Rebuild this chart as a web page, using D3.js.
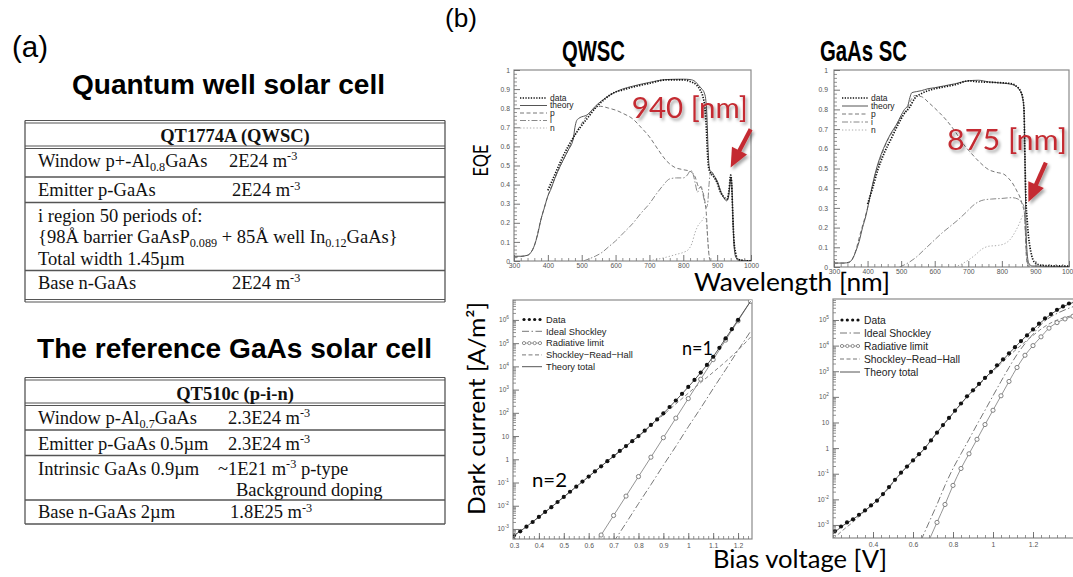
<!DOCTYPE html>
<html><head><meta charset="utf-8">
<script src="https://cdn.jsdelivr.net/npm/d3@7"></script>
<style>
body{margin:0;background:#fff}
svg{display:block}
</style></head><body>
<svg id="fig" width="1073" height="577"></svg>
<script>
// ================= data =================
// EQE spectra: [wavelength nm, EQE]
const qwEqeData = [[400,0.37],[420,0.45],[440,0.53],[460,0.60],[480,0.66],[500,0.71],[520,0.755],[540,0.80],[560,0.835],[580,0.865],[600,0.885],[620,0.895],[650,0.91],[700,0.93],[750,0.948],[800,0.948],[820,0.94],[840,0.92],[850,0.895],[858,0.86],[864,0.80],[868,0.70],[871,0.58],[874,0.50],[878,0.47],[885,0.45],[890,0.44],[900,0.41],[910,0.36],[920,0.335],[930,0.325],[935,0.37],[940,0.45],[943,0.40],[946,0.25],[950,0.10],[955,0.04],[960,0.01],[970,0.005],[1000,0.0]];
const qwEqeTheory = [[300,0.025],[320,0.025],[340,0.03],[350,0.045],[360,0.08],[370,0.14],[380,0.22],[390,0.28],[400,0.34],[410,0.38],[420,0.43],[440,0.51],[460,0.58],[475,0.64],[480,0.70],[485,0.735],[490,0.745],[500,0.755],[510,0.76],[520,0.77],[530,0.79],[540,0.81],[560,0.84],[580,0.865],[600,0.885],[620,0.90],[650,0.915],[700,0.935],[750,0.95],[800,0.952],[820,0.95],[835,0.94],[845,0.92],[855,0.90],[862,0.88],[866,0.85],[870,0.75],[873,0.60],[876,0.50],[880,0.47],[885,0.465],[890,0.45],[900,0.42],[910,0.37],[920,0.33],[928,0.315],[933,0.33],[938,0.40],[941,0.44],[944,0.38],[947,0.20],[950,0.08],[955,0.02],[965,0.005],[1000,0.0]];
const qwEqeP = [[300,0.02],[340,0.03],[360,0.08],[380,0.22],[400,0.34],[420,0.43],[440,0.51],[460,0.58],[480,0.66],[500,0.72],[520,0.77],[540,0.80],[555,0.81],[580,0.80],[600,0.79],[625,0.77],[650,0.745],[675,0.70],[700,0.65],[725,0.585],[750,0.525],[775,0.49],[800,0.478],[820,0.47],[835,0.44],[845,0.39],[852,0.385],[858,0.36],[864,0.31],[868,0.25],[872,0.12],[876,0.03],[880,0.0]];
const qwEqeI = [[505,0.0],[520,0.01],[540,0.025],[560,0.045],[580,0.075],[600,0.105],[625,0.15],[650,0.195],[675,0.25],[700,0.30],[720,0.35],[740,0.395],[760,0.43],[780,0.435],[800,0.435],[812,0.45],[822,0.475],[828,0.46],[835,0.41],[842,0.36],[848,0.385],[853,0.39],[858,0.35],[863,0.31],[868,0.28],[872,0.30],[876,0.40],[880,0.46],[886,0.46],[892,0.44],[900,0.41],[910,0.36],[920,0.33],[930,0.32],[935,0.36],[940,0.44],[943,0.39],[946,0.24],[950,0.09],[955,0.03],[962,0.005],[1000,0.0]];
const qwEqeN = [[690,0.0],[720,0.008],[750,0.02],[780,0.035],[800,0.045],[815,0.06],[825,0.09],[835,0.15],[845,0.19],[855,0.21],[862,0.23],[867,0.22],[871,0.14],[875,0.05],[879,0.0]];

const gaEqeData = [[400,0.32],[415,0.40],[430,0.49],[450,0.58],[470,0.65],[490,0.72],[510,0.78],[525,0.81],[540,0.855],[560,0.88],[580,0.895],[600,0.905],[630,0.915],[660,0.925],[700,0.945],[730,0.94],[760,0.938],[800,0.935],[830,0.93],[845,0.915],[855,0.895],[862,0.86],[866,0.80],[868,0.62],[870,0.45],[872,0.33],[875,0.25],[878,0.18],[882,0.12],[886,0.08],[892,0.04],[900,0.02],[920,0.008],[1000,0.005]];
const gaEqeTheory = [[300,0.02],[330,0.02],[345,0.025],[355,0.04],[365,0.08],[375,0.13],[385,0.20],[395,0.26],[405,0.34],[415,0.42],[425,0.49],[440,0.57],[455,0.63],[470,0.68],[485,0.72],[500,0.77],[510,0.80],[520,0.82],[526,0.86],[532,0.885],[545,0.89],[560,0.895],[580,0.905],[600,0.91],[630,0.92],[660,0.93],[700,0.945],[730,0.948],[760,0.94],[790,0.935],[820,0.93],[840,0.92],[852,0.90],[860,0.87],[865,0.82],[868,0.65],[870,0.40],[872,0.20],[875,0.08],[880,0.02],[890,0.005],[1000,0.002]];
const gaEqeP = [[300,0.02],[340,0.02],[360,0.06],[380,0.18],[400,0.30],[420,0.45],[440,0.56],[460,0.645],[480,0.70],[500,0.76],[520,0.81],[530,0.85],[540,0.87],[560,0.865],[585,0.83],[610,0.79],[635,0.745],[660,0.69],[685,0.625],[710,0.575],[735,0.53],[760,0.495],[785,0.48],[805,0.472],[820,0.45],[830,0.43],[845,0.385],[855,0.35],[862,0.31],[867,0.28],[870,0.18],[873,0.05],[878,0.0]];
const gaEqeI = [[495,0.0],[520,0.02],[545,0.05],[570,0.09],[595,0.13],[620,0.17],[645,0.205],[670,0.24],[695,0.28],[720,0.32],[745,0.34],[770,0.345],[800,0.348],[830,0.352],[848,0.345],[858,0.33],[865,0.31],[869,0.22],[872,0.10],[876,0.03],[880,0.0]];
const gaEqeN = [[660,0.0],[680,0.015],[700,0.035],[720,0.06],[740,0.09],[760,0.105],[790,0.11],[810,0.12],[825,0.14],[840,0.18],[852,0.22],[862,0.26],[867,0.27],[870,0.20],[873,0.08],[877,0.02],[880,0.0]];

// Dark current: [bias V, current density A/m^2]
const qwDarkData = [[0.300,5.2e-4],[0.325,7.9e-4],[0.350,1.26e-3],[0.375,2.0e-3],[0.400,3.3e-3],[0.425,5.4e-3],[0.450,8.7e-3],[0.475,1.45e-2],[0.500,2.4e-2],[0.525,4.0e-2],[0.550,6.6e-2],[0.575,0.11],[0.600,0.18],[0.625,0.30],[0.650,0.50],[0.675,0.83],[0.700,1.38],[0.725,2.3],[0.750,3.7],[0.775,6.0],[0.800,10],[0.825,17],[0.850,30],[0.875,52],[0.900,95],[0.925,178],[0.950,340],[0.975,660],[1.000,1.3e3],[1.025,2.6e3],[1.050,5.4e3],[1.075,1.15e4],[1.100,2.6e4],[1.125,6.3e4],[1.150,1.6e5],[1.175,4.0e5],[1.200,1.0e6]];
const qwDarkTotal = [[0.30,5.2e-4],[0.35,1.26e-3],[0.40,3.3e-3],[0.45,8.7e-3],[0.50,2.4e-2],[0.55,6.6e-2],[0.60,0.18],[0.65,0.5],[0.70,1.38],[0.75,3.7],[0.80,10],[0.85,30],[0.90,95],[0.95,340],[1.00,1.3e3],[1.05,5.4e3],[1.10,2.6e4],[1.15,1.6e5],[1.20,1.0e6],[1.25,6.3e6]];
const qwDarkRad = [[0.65,5.5e-4],[0.70,3.8e-3],[0.75,2.6e-2],[0.80,0.18],[0.85,1.23],[0.90,8.5],[0.95,59],[1.00,410],[1.05,2.8e3],[1.10,1.95e4],[1.15,1.35e5],[1.20,9.1e5],[1.25,6.3e6]];
const qwDarkIdeal = [[0.70,2.75e-4],[0.75,1.8e-3],[0.80,1.23e-2],[0.85,8.1e-2],[0.90,0.55],[0.95,3.6],[1.00,25],[1.05,160],[1.10,1.1e3],[1.15,7.2e3],[1.20,4.9e4],[1.25,3.2e5]];
const qwDarkSRH = [[0.30,5.2e-4],[0.35,1.26e-3],[0.40,3.3e-3],[0.45,8.7e-3],[0.50,2.4e-2],[0.55,6.6e-2],[0.60,0.18],[0.65,0.49],[0.70,1.33],[0.75,3.6],[0.80,9.6],[0.85,28],[0.90,82],[0.95,240],[1.00,700],[1.05,2.0e3],[1.10,5.6e3],[1.15,1.6e4],[1.20,5.0e4],[1.25,1.8e5]];

const gaDarkData = [[0.21,5.8e-4],[0.24,8.7e-4],[0.27,1.26e-3],[0.30,1.66e-3],[0.33,2.5e-3],[0.36,3.7e-3],[0.39,5.8e-3],[0.42,8.9e-3],[0.45,1.6e-2],[0.48,3.0e-2],[0.51,5.8e-2],[0.54,0.11],[0.57,0.19],[0.60,0.33],[0.63,0.58],[0.66,1.0],[0.69,2.0],[0.72,4.0],[0.75,7.9],[0.78,15],[0.81,29],[0.84,55],[0.87,105],[0.90,180],[0.93,320],[0.96,550],[0.99,950],[1.02,1.7e3],[1.05,2.9e3],[1.08,5.0e3],[1.11,8.7e3],[1.14,1.5e4],[1.17,2.5e4],[1.20,4.3e4],[1.23,7.2e4],[1.26,1.15e5],[1.29,1.7e5],[1.32,2.5e5],[1.35,3.4e5],[1.38,4.4e5],[1.41,5.5e5]];
const gaDarkTotal = [[0.20,4.5e-4],[0.25,9.5e-4],[0.30,1.66e-3],[0.35,3.2e-3],[0.40,6.6e-3],[0.45,1.6e-2],[0.50,4.7e-2],[0.55,0.13],[0.60,0.33],[0.65,0.83],[0.70,2.5],[0.75,7.9],[0.80,23],[0.85,68],[0.90,180],[0.95,460],[1.00,1.1e3],[1.05,2.8e3],[1.10,7.2e3],[1.15,1.8e4],[1.20,4.2e4],[1.25,9.5e4],[1.30,1.9e5],[1.35,3.3e5],[1.40,4.8e5]];
const gaDarkRad = [[0.68,2.5e-4],[0.72,1.26e-3],[0.76,6.3e-3],[0.80,3.5e-2],[0.84,0.16],[0.88,0.6],[0.92,2.2],[0.96,8.3],[1.00,30],[1.04,110],[1.08,400],[1.12,1.4e3],[1.16,4.2e3],[1.20,1.0e4],[1.24,2.2e4],[1.28,4.8e4],[1.32,7.9e4],[1.36,1.1e5],[1.40,1.4e5]];
const gaDarkIdeal = [[0.64,2.5e-4],[0.68,1.26e-3],[0.72,6.3e-3],[0.76,3.5e-2],[0.80,0.16],[0.84,0.6],[0.88,2.2],[0.92,8.3],[0.96,30],[1.00,110],[1.04,400],[1.08,1.4e3],[1.12,4.5e3],[1.16,1.2e4],[1.20,2.8e4],[1.24,6.6e4],[1.28,1.2e5],[1.32,1.8e5],[1.36,2.5e5],[1.40,3.3e5]];
const gaDarkSRH = [[0.20,2.8e-4],[0.25,6.3e-4],[0.30,1.3e-3],[0.35,3.0e-3],[0.40,6.6e-3],[0.45,1.5e-2],[0.50,4.4e-2],[0.55,0.13],[0.60,0.33],[0.65,0.83],[0.70,2.6],[0.75,7.9],[0.80,22],[0.85,66],[0.90,170],[0.95,420],[1.00,1.0e3],[1.05,2.4e3],[1.10,5.5e3],[1.15,1.2e4],[1.20,2.5e4],[1.25,5.0e4],[1.30,8.5e4],[1.35,1.2e5],[1.40,1.5e5]];

// tick values
const eqeXTicks = [300,400,500,600,700,800,900,1000];
const eqeYTicks = [0,0.1,0.2,0.3,0.4,0.5,0.6,0.7,0.8,0.9,1];
const qwDarkXTicks = [0.3,0.4,0.5,0.6,0.7,0.8,0.9,1,1.1,1.2];
const gaDarkXTicks = [0.4,0.6,0.8,1,1.2];
const qwDarkYTicks = [1e-3,1e-2,1e-1,1,10,1e2,1e3,1e4,1e5,1e6];
const gaDarkYTicks = [1e-3,1e-2,1e-1,1,10,1e2,1e3,1e4,1e5];

// legend entries
const eqeLegend = ["data","theory","p","i","n"];
const darkLegend = ["Data","Ideal Shockley","Radiative limit","Shockley\u2212Read\u2212Hall","Theory total"];

// annotation values
const qwPeak = {label:"940 [nm]", wl:940};
const gaEdge = {label:"875 [nm]", wl:875};

// table contents
const table1Title = "QT1774A (QWSC)";
const table1Rows = [
  [[["Window p+-Al"],["0.8","sub"],["GaAs"]], [["2E24 m"],["-3","sup"]]],
  [[["Emitter p-GaAs"]], [["2E24 m"],["-3","sup"]]],
  [[["i region 50 periods of:"]], null],
  [[["{98\u00C5 barrier GaAsP"],["0.089","sub"],[" + 85\u00C5 well In"],["0.12","sub"],["GaAs}"]], null],
  [[["Total width 1.45\u00B5m"]], null],
  [[["Base n-GaAs"]], [["2E24 m"],["-3","sup"]]]
];
const table2Title = "QT510c (p-i-n)";
const table2Rows = [
  [[["Window p-Al"],["0.7","sub"],["GaAs"]], [["2.3E24 m"],["-3","sup"]]],
  [[["Emitter p-GaAs 0.5\u00B5m"]], [["2.3E24 m"],["-3","sup"]]],
  [[["Intrinsic GaAs 0.9\u00B5m"]], [["~1E21 m"],["-3","sup"],[" p-type"]]],
  [[[""]], [["Background doping"]]],
  [[["Base n-GaAs 2\u00B5m"]], [["1.8E25 m"],["-3","sup"]]]
];

// ================= drawing =================
const svg = d3.select("#fig");
svg.append("rect").attr("width",1073).attr("height",577).attr("fill","#fff");
const defs = svg.append("defs");
const flt = defs.append("filter").attr("id","shadow").attr("x","-20%").attr("y","-20%").attr("width","150%").attr("height","160%");
flt.append("feDropShadow").attr("dx",2).attr("dy",2.5).attr("stdDeviation",1.6)
   .attr("flood-color","#000").attr("flood-opacity",0.35);

const SANS = "'Liberation Sans', Arial, sans-serif";
const SERIF = "'Liberation Serif', 'Times New Roman', serif";
const HUM = "Lato, 'Open Sans', sans-serif";
const RED = "#c42a30";

function label(g, txt, x, y, o = {}) {
  const t = g.append("text").attr("x", x).attr("y", y)
    .attr("font-family", o.family || SANS).attr("font-size", o.size || 12)
    .attr("font-weight", o.weight || "normal").attr("fill", o.fill || "#000")
    .attr("text-anchor", o.anchor || "start").text(txt);
  if (o.width) t.attr("textLength", o.width).attr("lengthAdjust", "spacingAndGlyphs");
  if (o.rotate) t.attr("transform", `rotate(${o.rotate},${x},${y})`);
  if (o.filter) t.attr("filter", o.filter);
  return t;
}

// ---------- (a) tables ----------
const ga = svg.append("g");
label(ga, "(a)", 12, 57, {size: 29, width: 36});
label(ga, "Quantum well solar cell", 72, 94, {size: 27, weight: "bold", width: 313});
label(ga, "The reference GaAs solar cell", 37, 357.5, {size: 28, weight: "bold", width: 395});

function richText(g, segs, x, y, size) {
  const t = g.append("text").attr("x", x).attr("y", y)
    .attr("font-family", SERIF).attr("font-size", size).attr("fill", "#111");
  let shift = 0;
  segs.forEach(([s, kind]) => {
    const want = kind === "sub" ? 4.5 : kind === "sup" ? -6.5 : 0;
    const ts = t.append("tspan").text(s).attr("dy", want - shift);
    if (kind) ts.attr("font-size", size * 0.66);
    shift = want;
  });
  return t;
}

function drawTable(g, cfg, title, rows) {
  const line = (y, w) => g.append("line").attr("x1", cfg.x0).attr("x2", cfg.x1)
    .attr("y1", y).attr("y2", y).attr("stroke", "#555").attr("stroke-width", w);
  cfg.double.forEach(y => { line(y, 1.1); line(y + 2.5, 1.1); });
  cfg.single.forEach(y => line(y, 1.3));
  [cfg.x0, cfg.x1].forEach(x => g.append("line").attr("x1", x).attr("x2", x)
    .attr("y1", cfg.top).attr("y2", cfg.bottom).attr("stroke", "#555").attr("stroke-width", 1.3));
  g.append("text").attr("x", (cfg.x0 + cfg.x1) / 2).attr("y", cfg.titleY)
    .attr("text-anchor", "middle").attr("font-family", SERIF).attr("font-weight", "bold")
    .attr("font-size", 18.5).attr("fill", "#111").text(title);
  rows.forEach((r, i) => {
    richText(g, r[0], cfg.textX, cfg.rowY[i], 18.5);
    if (r[1]) richText(g, r[1], cfg.valX[i], cfg.rowY[i], 18.5);
  });
}

drawTable(ga, {x0: 25, x1: 445, top: 120.5, bottom: 302,
  double: [120.5, 146, 299.5], single: [177, 202.5, 270.5],
  titleY: 142, textX: 38, rowY: [166.5, 196, 221.5, 242.5, 264.5, 288.5],
  valX: [229, 232, 0, 0, 0, 232]}, table1Title, table1Rows);

drawTable(ga, {x0: 25, x1: 445, top: 377.5, bottom: 524,
  double: [377.5, 403], single: [430, 455.5, 500, 524],
  titleY: 399.5, textX: 38, rowY: [423.5, 449.5, 474.5, 495.5, 518],
  valX: [228, 228, 218, 236, 230]}, table2Title, table2Rows);

// ---------- (b) plots ----------
const gb = svg.append("g");
label(gb, "(b)", 445, 27, {size: 26, width: 32});
label(gb, "QWSC", 593.5, 61, {size: 29, weight: "bold", anchor: "middle", width: 63});
label(gb, "GaAs SC", 863.5, 61, {size: 29, weight: "bold", anchor: "middle", width: 87});
label(gb, "EQE", 488, 160.5, {family: HUM, size: 22, anchor: "middle", width: 32, rotate: -90});
label(gb, "Wavelength [nm]", 792, 291, {family: HUM, size: 25, anchor: "middle", width: 196});
label(gb, "Dark current [A/m\u00B2]", 485, 408.5, {family: HUM, size: 24, anchor: "middle", width: 213, rotate: -90});
label(gb, "Bias voltage [V]", 800, 568, {family: HUM, size: 25, anchor: "middle", width: 174});

let clipId = 0;
function frame(g, box) {
  const id = "clip" + (clipId++);
  defs.append("clipPath").attr("id", id).append("rect")
    .attr("x", box.x0).attr("y", box.y0).attr("width", box.x1 - box.x0).attr("height", box.y1 - box.y0);
  g.append("rect").attr("x", box.x0).attr("y", box.y0).attr("width", box.x1 - box.x0)
    .attr("height", box.y1 - box.y0).attr("fill", "none").attr("stroke", "#8a8a8a").attr("stroke-width", 1.2);
  return g.append("g").attr("clip-path", `url(#${id})`);
}

function ticks(g, axis, pos, major, minor) {
  const gm = g.append("g").attr("transform", pos).call(axis.tickValues(minor).tickSize(-3).tickFormat(""));
  gm.select(".domain").remove();
  gm.selectAll("line").attr("stroke", "#777").attr("stroke-width", 0.8);
  const gM = g.append("g").attr("transform", pos).call(major);
  gM.select(".domain").remove();
  gM.selectAll("line").attr("stroke", "#666").attr("stroke-width", 0.9);
  gM.selectAll("text").attr("font-family", SANS).attr("font-size", 6.8).attr("fill", "#555");
  return gM;
}

function dashFor(kind) {
  return {theory: null, p: "4 2.5", i: "6 2 1.5 2", n: "1.3 2"}[kind];
}

// EQE panel
function eqePanel(box, series, leg, note) {
  const g = gb.append("g");
  const x = d3.scaleLinear().domain([300, 1000]).range([box.x0, box.x1]);
  const y = d3.scaleLinear().domain([0, 1]).range([box.y1, box.y0]);
  const plot = frame(g, box);
  const line = d3.line().x(d => x(d[0])).y(d => y(d[1])).curve(d3.curveMonotoneX);
  const styles = {
    theory: {c: "#555", w: 1.0}, p: {c: "#777", w: 1.0}, i: {c: "#888", w: 1.0}, n: {c: "#aaa", w: 1.0}
  };
  ["n", "i", "p", "theory"].forEach(k => {
    plot.append("path").datum(series[k]).attr("d", line).attr("fill", "none")
      .attr("stroke", styles[k].c).attr("stroke-width", styles[k].w)
      .attr("stroke-dasharray", dashFor(k));
  });
  plot.append("path").datum(series.data).attr("d", line).attr("fill", "none")
    .attr("stroke", "#111").attr("stroke-width", 1.7).attr("stroke-dasharray", "1.3 1.4");

  const xMinor = d3.range(300, 1001, 20).filter(v => v % 100 !== 0);
  const yMinor = d3.range(0, 1.001, 0.02).filter(v => Math.abs(v * 10 - Math.round(v * 10)) > 1e-6);
  ticks(g, d3.axisBottom(x), `translate(0,${box.y1})`,
    d3.axisBottom(x).tickValues(eqeXTicks).tickSize(-6).tickPadding(2).tickFormat(d3.format("d")), xMinor);
  ticks(g, d3.axisLeft(y), `translate(${box.x0},0)`,
    d3.axisLeft(y).tickValues(eqeYTicks).tickSize(-6).tickPadding(box.lpad)
      .tickFormat(d => d === 0 ? "0" : d === 1 ? "1" : d.toFixed(1)), yMinor);

  // legend
  eqeLegend.forEach((name, i) => {
    const ly = leg.y + i * leg.dy;
    const key = i === 0 ? "data" : i === 1 ? "theory" : name;
    const s = g.append("line").attr("x1", leg.x0).attr("x2", leg.x1).attr("y1", ly).attr("y2", ly).attr("fill", "none");
    if (key === "data") s.attr("stroke", "#111").attr("stroke-width", 1.7).attr("stroke-dasharray", "1.3 1.4");
    else s.attr("stroke", styles[key].c).attr("stroke-width", 1).attr("stroke-dasharray", dashFor(key));
    label(g, name, leg.x1 + 3, ly + 2.8, {size: 8.5, fill: "#222"});
  });

  // annotation with arrow
  label(g, note.label, x(note.textWl), y(note.textEqe), {family: HUM, size: 28, fill: RED, width: note.width, filter: "url(#shadow)"});
  const tail = [x(note.tail[0]), y(note.tail[1])], tip = [x(note.wl), y(note.tipEqe)];
  const dx = tip[0] - tail[0], dy = tip[1] - tail[1], L = Math.hypot(dx, dy);
  const ux = dx / L, uy = dy / L, hl = 19, hw = 8.5;
  const bx = tip[0] - ux * hl, by = tip[1] - uy * hl;
  const ag = g.append("g").attr("filter", "url(#shadow)");
  ag.append("line").attr("x1", tail[0]).attr("y1", tail[1]).attr("x2", bx + ux * 2).attr("y2", by + uy * 2)
    .attr("stroke", RED).attr("stroke-width", 4.2);
  ag.append("path").attr("d", `M${tip[0]},${tip[1]}L${bx - uy * hw},${by + ux * hw}L${bx + uy * hw},${by - ux * hw}Z`)
    .attr("fill", RED);
}

eqePanel({x0: 514, x1: 751, y0: 70, y1: 261, lpad: 4},
  {data: qwEqeData, theory: qwEqeTheory, p: qwEqeP, i: qwEqeI, n: qwEqeN},
  {x0: 520, x1: 547, y: 98, dy: 7.5},
  {label: qwPeak.label, wl: qwPeak.wl, tipEqe: 0.49, tail: [999, 0.69], textWl: 648, textEqe: 0.748, width: 116});

eqePanel({x0: 834, x1: 1069, y0: 70, y1: 267, lpad: 6},
  {data: gaEqeData, theory: gaEqeTheory, p: gaEqeP, i: gaEqeI, n: gaEqeN},
  {x0: 842, x1: 868, y: 98, dy: 8},
  {label: gaEdge.label, wl: 879, tipEqe: 0.33, tail: [931, 0.53], textWl: 637, textEqe: 0.595, width: 120});

// dark current panel
function darkPanel(box, xDom, yDom, xTicks, xMinorStep, yTicks, s, leg, lsize) {
  const g = gb.append("g");
  const x = d3.scaleLinear().domain(xDom).range([box.x0, box.x1]);
  const y = d3.scaleLog().domain(yDom).range([box.y1, box.y0]);
  const plot = frame(g, box);
  const line = d3.line().x(d => x(d[0])).y(d => y(d[1])).curve(d3.curveMonotoneX);
  const path = (data, c, dash, w) => plot.append("path").datum(data).attr("d", line).attr("fill", "none")
    .attr("stroke", c).attr("stroke-width", w || 1).attr("stroke-dasharray", dash);
  path(s.ideal, "#777", "7 2.5 1.5 2.5");
  path(s.srh, "#888", "4 2.5");
  path(s.rad, "#888", null, 0.9);
  plot.selectAll(null).data(s.rad).join("circle")
    .attr("cx", d => x(d[0])).attr("cy", d => y(d[1])).attr("r", 2.1)
    .attr("fill", "#fff").attr("stroke", "#666").attr("stroke-width", 0.8);
  path(s.total, "#555", null, 1);
  plot.selectAll(null).data(s.data).join("circle")
    .attr("cx", d => x(d[0])).attr("cy", d => y(d[1])).attr("r", 2.1).attr("fill", "#111");

  const lo = Math.ceil(xDom[0] / xMinorStep), hi = Math.floor(xDom[1] / xMinorStep);
  const xMinor = d3.range(lo, hi + 1).map(k => +(k * xMinorStep).toFixed(3));
  const yMinor = [];
  yTicks.concat([yTicks[0] / 10]).forEach(d => [2,3,4,5,6,7,8,9].forEach(m => {
    const v = d * m; if (v > yDom[0] && v < yDom[1]) yMinor.push(v);
  }));
  ticks(g, d3.axisBottom(x), `translate(0,${box.y1})`,
    d3.axisBottom(x).tickValues(xTicks).tickSize(-6).tickPadding(4).tickFormat(d => String(+d.toFixed(1))), xMinor);
  ticks(g, d3.axisLeft(y), `translate(${box.x0},0)`,
    d3.axisLeft(y).tickValues(yTicks).tickSize(-6).tickFormat(""), yMinor);
  // decade labels with superscript exponents
  yTicks.forEach(v => {
    const e = Math.round(Math.log10(v));
    const t = g.append("text").attr("x", box.x0 - box.lpad).attr("y", y(v) + 2.5).attr("text-anchor", "end")
      .attr("font-family", SANS).attr("font-size", 6.5).attr("fill", "#555");
    if (e === 0) t.text("1");
    else if (e === 1) t.text("10");
    else {
      t.append("tspan").text("10");
      t.append("tspan").attr("dy", -3).attr("font-size", 4.8).text(e);
    }
  });

  // legend
  darkLegend.forEach((name, i) => {
    const ly = leg.y + i * leg.dy;
    if (i === 0) {
      [0, 1, 2, 3].forEach(k => g.append("circle").attr("cx", leg.x0 + 2 + k * (leg.x1 - leg.x0 - 4) / 3)
        .attr("cy", ly).attr("r", 1.6).attr("fill", "#111"));
    } else if (i === 2) {
      g.append("line").attr("x1", leg.x0).attr("x2", leg.x1).attr("y1", ly).attr("y2", ly).attr("stroke", "#888").attr("stroke-width", 0.8);
      [0, 1, 2, 3].forEach(k => g.append("circle").attr("cx", leg.x0 + 2 + k * (leg.x1 - leg.x0 - 4) / 3)
        .attr("cy", ly).attr("r", 1.6).attr("fill", "#fff").attr("stroke", "#666").attr("stroke-width", 0.7));
    } else {
      const dash = i === 1 ? "7 2.5 1.5 2.5" : i === 3 ? "4 2.5" : null;
      g.append("line").attr("x1", leg.x0).attr("x2", leg.x1).attr("y1", ly).attr("y2", ly)
        .attr("stroke", i === 4 ? "#555" : "#777").attr("stroke-width", 1).attr("stroke-dasharray", dash);
    }
    label(g, name, leg.x1 + 4, ly + lsize * 0.36, {size: lsize, fill: "#222"});
  });
  return {x, y, g};
}

const qd = darkPanel({x0: 513, x1: 752, y0: 300, y1: 539, lpad: 4}, [0.296, 1.256], [3.7e-4, 7.2e6],
  qwDarkXTicks, 0.02, qwDarkYTicks,
  {data: qwDarkData, total: qwDarkTotal, rad: qwDarkRad, ideal: qwDarkIdeal, srh: qwDarkSRH},
  {x0: 522, x1: 542, y: 319.5, dy: 11.8}, 9.3);
label(qd.g, "n=1", 682, 355, {family: HUM, size: 20, width: 31});
label(qd.g, "n=2", 532, 487, {family: HUM, size: 20, width: 35});

darkPanel({x0: 833, x1: 1083, y0: 299, y1: 538, lpad: 4}, [0.2, 1.45], [3.1e-4, 6.6e5],
  gaDarkXTicks, 0.04, gaDarkYTicks,
  {data: gaDarkData, total: gaDarkTotal, rad: gaDarkRad, ideal: gaDarkIdeal, srh: gaDarkSRH},
  {x0: 840, x1: 860, y: 320, dy: 13}, 10.3);
</script>
</body></html>
